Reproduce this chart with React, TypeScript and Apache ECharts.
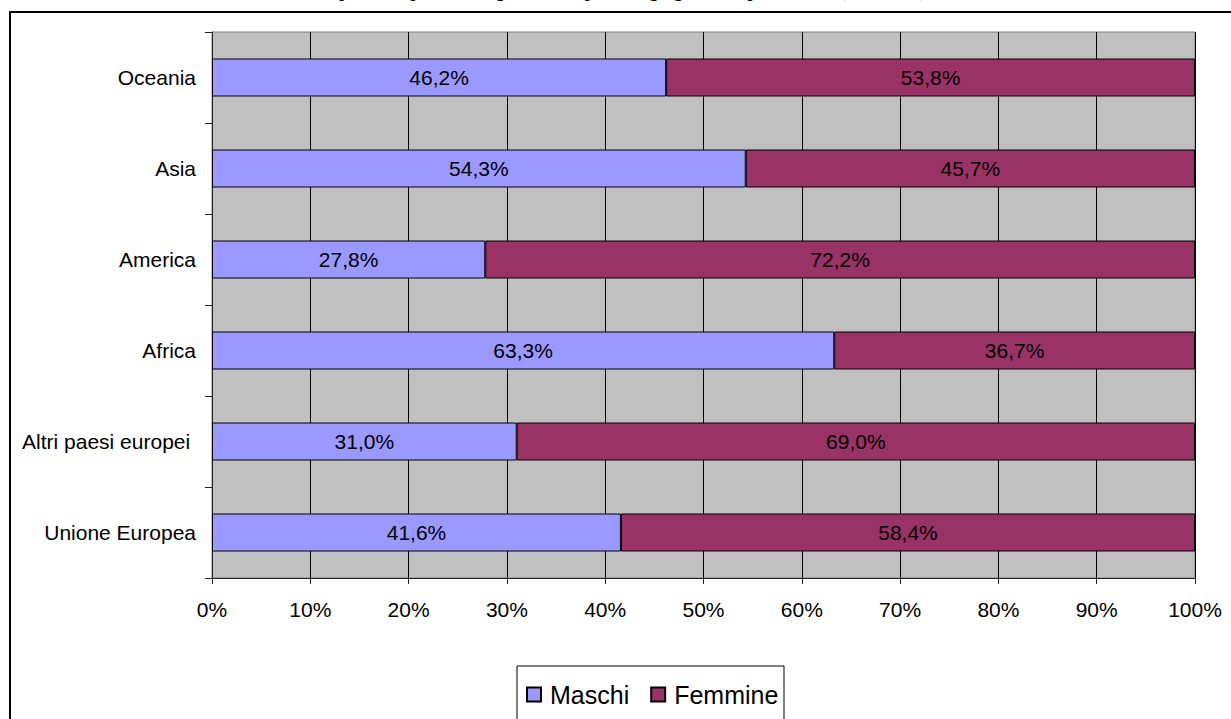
import React, { useEffect, useRef } from "react";
import * as echarts from "echarts";

const categories = ["Unione Europea", "Altri paesi europei ", "Africa", "America", "Asia", "Oceania"];
const maschi = [41.6, 31.0, 63.3, 27.8, 54.3, 46.2];
const femmine = [58.4, 69.0, 36.7, 72.2, 45.7, 53.8];
const seriesNames = ["Maschi", "Femmine"];
const titleText = "Composizione per sesso degli stranieri per area geografica di provenienza (anno 2008)";

const fmt = (v: number) => v.toFixed(1).replace(".", ",") + "%";

export default function App() {
  const ref = useRef<HTMLDivElement>(null);
  useEffect(() => {
    document.body.style.margin = "0";
    const chart = echarts.init(ref.current!, undefined, { renderer: "svg" });
    const font = "Liberation Sans, Arial, sans-serif";
    chart.setOption({
      animation: false,
      backgroundColor: "#ffffff",
      textStyle: { fontFamily: font },
      graphic: [
        {
          type: "rect",
          shape: { x: 10, y: 12, width: 1240, height: 740 },
          style: { fill: "none", stroke: "#000", lineWidth: 2 },
          z: 0,
        },
        {
          type: "text",
          x: 615,
          y: -17,
          style: {
            text: titleText,
            font: "bold 17px 'Liberation Serif', 'DejaVu Serif', serif",
            fill: "#000",
            textAlign: "center",
            textVerticalAlign: "top",
          },
        },
        {
          type: "rect",
          shape: { x: 517, y: 666, width: 267, height: 60 },
          style: { fill: "#fff", stroke: "#000", lineWidth: 1 },
          z: 1,
        },
      ],
      grid: {
        left: 212,
        right: 36,
        top: 32,
        bottom: 141,
        show: true,
        backgroundColor: "#C0C0C0",
        borderColor: "#808080",
        borderWidth: 1,
      },
      legend: {
        data: seriesNames,
        left: 521,
        top: 677,
        itemWidth: 14,
        itemHeight: 14,
        itemGap: 21,
        icon: "rect",
        textStyle: { fontSize: 25, color: "#000", fontFamily: font, padding: [0, 0, 0, 4] },
        z: 5,
      },
      xAxis: {
        type: "value",
        min: 0,
        max: 100,
        interval: 10,
        axisLine: { show: true, lineStyle: { color: "#222", width: 1 } },
        axisTick: { show: true, length: 6, lineStyle: { color: "#222" } },
        axisLabel: { formatter: "{value}%", fontSize: 21, color: "#000", margin: 21 },
        splitLine: { show: true, lineStyle: { color: "#000", width: 1 } },
      },
      yAxis: {
        type: "category",
        data: categories,
        axisLine: { show: true, lineStyle: { color: "#222", width: 1 } },
        axisTick: { show: true, length: 7, lineStyle: { color: "#222" } },
        axisLabel: { fontSize: 21, color: "#000", margin: 16 },
      },
      series: [
        {
          name: seriesNames[0],
          type: "bar",
          stack: "total",
          barWidth: 38,
          data: maschi,
          itemStyle: { color: "#9999FF", borderColor: "#000", borderWidth: 1 },
          label: {
            show: true,
            position: "inside",
            color: "#000",
            fontSize: 21,
            formatter: (p: any) => fmt(p.value),
          },
        },
        {
          name: seriesNames[1],
          type: "bar",
          stack: "total",
          barWidth: 38,
          data: femmine,
          itemStyle: { color: "#993366", borderColor: "#000", borderWidth: 1 },
          label: {
            show: true,
            position: "inside",
            color: "#000",
            fontSize: 21,
            formatter: (p: any) => fmt(p.value),
          },
        },
      ],
    });
    return () => chart.dispose();
  }, []);
  return <div ref={ref} style={{ width: 1231, height: 719 }} />;
}
